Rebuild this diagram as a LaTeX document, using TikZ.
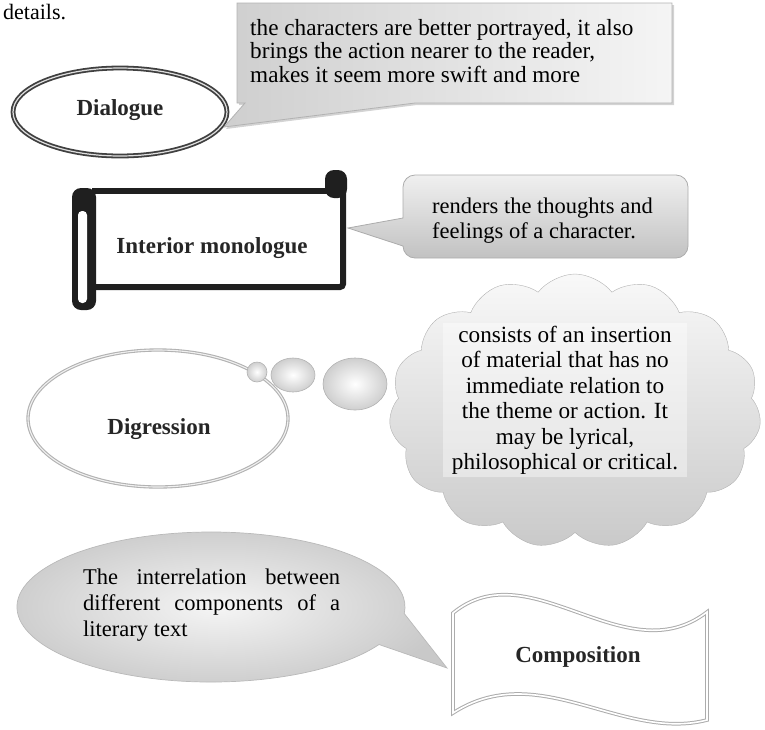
\documentclass[tikz,border=0pt]{standalone}
\usepackage{fontspec}
\setmainfont{Liberation Serif}
\usetikzlibrary{shapes.symbols,shadows}
\begin{document}
\begin{tikzpicture}[x=1pt,y=-1pt,
  txt/.style={inner sep=0pt, anchor=base west},
  lbl/.style={inner sep=0pt, anchor=base, font=\fontsize{23}{26}\selectfont\bfseries, text=black!85},
  ringdark/.style={draw=gray!50!black, double=gray!25, double distance=1.2pt, line width=1.8pt},
  ringlight/.style={draw=gray!60, double=gray!12, double distance=1.1pt, line width=1.1pt},
  bead/.style={inner color=white, outer color=gray!38, draw=gray!60, line width=0.6pt},
  scrollline/.style={line width=6pt, draw=black!88},
  flagshape/.style={draw=gray!65, double=white, double distance=1.6pt, line width=1pt, fill=white},
  calloutA/.style={left color=gray!38, right color=gray!8, draw=gray!60, line width=0.8pt,
     drop shadow={opacity=0.35, shadow xshift=2pt, shadow yshift=-2pt}},
  calloutB/.style={top color=gray!12, bottom color=gray!48, draw=gray!65, line width=0.8pt},
  bubble/.style={inner color=gray!8, outer color=gray!42, draw=gray!55, line width=0.7pt}
]
\useasboundingbox (0,0) rectangle (765,729);

% top-left page fragment
\node[txt, font=\fontsize{22}{24}\selectfont] (details) at (3,19) {details.};

% ---------- Dialogue ----------
\draw[ringdark, fill=white] (120,112) ellipse [x radius=107, y radius=44];
\node[lbl] (dialogue) at (120,115) {Dialogue};

\shadedraw[calloutA] (237,3) -- (672,3) -- (672,103) -- (415,103) -- (224,127) -- (245,103) -- (237,103) -- cycle;
\node[txt] (dtext) at (250,35) {\parbox[t]{420pt}{\raggedright\fontsize{23.2}{23.5}\selectfont
  the characters are better portrayed, it also\\
  brings the action nearer to the reader,\\
  makes it seem more swift and more}};

% ---------- Interior monologue (scroll) ----------
\fill[white] (92,191) rectangle (343,287);
\draw[scrollline] (92,191) -- (330,191);
\draw[scrollline, rounded corners=3pt] (343,180) -- (343,287) -- (92,287);
\fill[black!88, rounded corners=9pt] (72,188) rectangle (96,310);
\fill[white, rounded corners=4pt] (78,211) rectangle (87,303);
\fill[black!88, rounded corners=9pt] (325,170) rectangle (347,198);
\node[lbl] (interior) at (212,253) {Interior monologue};

\shadedraw[calloutB, rounded corners=12pt] (348,228) [sharp corners] -- (403,218) [rounded corners=12pt] -- (403,175) -- (688,175) -- (688,258) -- (403,258) [sharp corners] -- (403,246) -- cycle;
\node[txt] (itext) at (432,213) {\parbox[t]{250pt}{\raggedright\fontsize{22.5}{25}\selectfont
  renders the thoughts and\\
  feelings of a character.}};

% ---------- Digression ----------
\node[cloud, cloud puffs=15, cloud puff arc=105, aspect=1.36, minimum width=372pt, minimum height=274pt,
      draw=gray!60, top color=gray!5, bottom color=gray!42, inner sep=0pt] (cloud) at (575,411) {};
\node[anchor=base, inner sep=3pt, fill=white, fill opacity=0.4, text opacity=1] (ctext) at (565,342)
  {\parbox[t]{238pt}{\centering\fontsize{23.2}{25.5}\selectfont
  consists of an insertion\\
  of material that has no\\
  immediate relation to\\
  the theme or action. It\\
  may be lyrical,\\
  philosophical or critical.}};

\draw[ringlight, fill=white] (158,418.5) ellipse [x radius=130, y radius=68.5];
\node[lbl] (digression) at (159,434) {Digression};
\shadedraw[bead] (257,372) circle [radius=10];
\shadedraw[bead] (293,375) ellipse [x radius=22, y radius=17];
\shadedraw[bead] (355,384) ellipse [x radius=32, y radius=26];

% ---------- Composition ----------
\shadedraw[bubble] (379,644.5) arc [start angle=30, end angle=365, x radius=194, y radius=75] -- (447,668) -- cycle;
\node[txt] (btext) at (83,584) {\parbox[t]{257pt}{\fontsize{22.5}{26}\selectfont
  The\hfill interrelation\hfill between\\
  different\hfill components\hfill of\hfill a\\
  literary text}};

\path[flagshape] (453,613) .. controls (530,550) and (625,675) .. (707,612) -- (707,720)
   .. controls (622,742) and (538,658) .. (453,713) -- cycle;
\node[lbl] (composition) at (578,662) {Composition};
\end{tikzpicture}
\end{document}
